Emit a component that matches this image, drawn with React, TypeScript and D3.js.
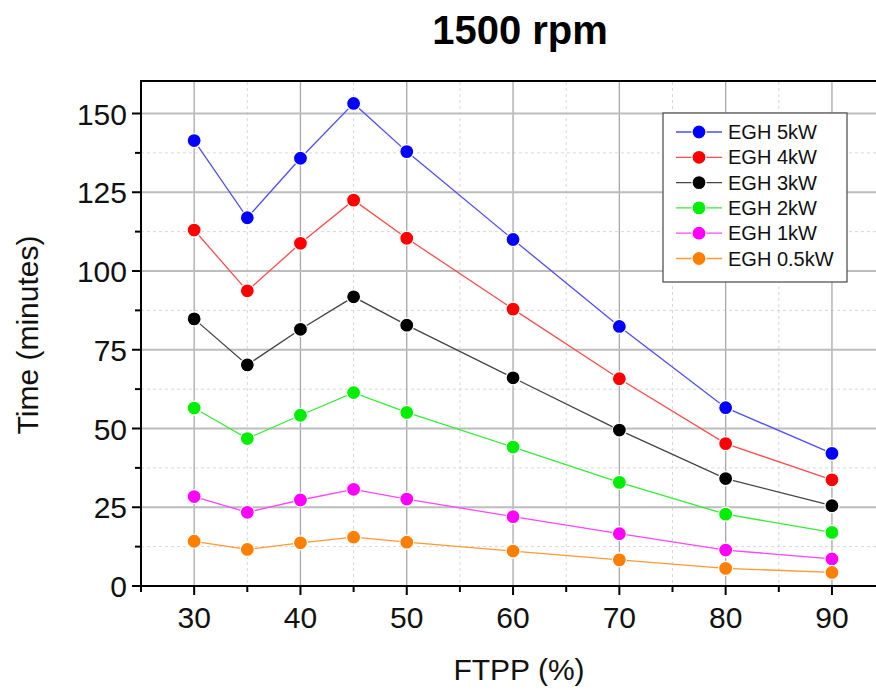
import React from "react";
import * as d3 from "d3";

const ftpp = [30, 35, 40, 45, 50, 60, 70, 80, 90];
const seriesNames = ["EGH 5kW", "EGH 4kW", "EGH 3kW", "EGH 2kW", "EGH 1kW", "EGH 0.5kW"];
const markerColors = ["#0000ff", "#ff0000", "#000000", "#00ee00", "#ff00ff", "#ff8000"];
const lineColors = ["#4d4dff", "#ff4d4d", "#444444", "#33ee33", "#ff44ff", "#ff9933"];
const egh5 = [141.4, 116.9, 135.8, 153.2, 137.9, 110.0, 82.4, 56.6, 42.1];
const egh4 = [113.0, 93.7, 108.8, 122.5, 110.4, 87.9, 65.8, 45.2, 33.7];
const egh3 = [84.8, 70.2, 81.5, 91.8, 82.8, 66.1, 49.5, 34.1, 25.5];
const egh2 = [56.5, 46.8, 54.2, 61.4, 55.1, 44.1, 32.9, 22.8, 17.0];
const egh1 = [28.4, 23.4, 27.3, 30.7, 27.6, 22.0, 16.6, 11.4, 8.6];
const egh05 = [14.2, 11.6, 13.7, 15.5, 13.9, 11.1, 8.3, 5.6, 4.3];
const seriesValues = [egh5, egh4, egh3, egh2, egh1, egh05];
const xMajorTicks = [30, 40, 50, 60, 70, 80, 90];
const xMinorTicks = [25, 35, 45, 55, 65, 75, 85, 95];
const yMajorTicks = [0, 25, 50, 75, 100, 125, 150];
const yMinorTicks = [12.5, 37.5, 62.5, 87.5, 112.5, 137.5];

export default function App() {
  const W = 876, H = 690;
  const left = 141, top = 82, bottom = 586;
  const x = d3.scaleLinear().domain([25, 95]).range([left, left + 70 * 10.63]);
  const y = d3.scaleLinear().domain([0, 160]).range([bottom, top]);
  const right = x(95);
  const line = d3.line<number>().x((_, i) => x(ftpp[i])).y((v) => y(v));
  const font = "Liberation Sans, Arial, sans-serif";

  const legX = 663, legY = 113, legW = 184, legH = 169;
  return (
    <svg width={W} height={H} style={{ position: "absolute", left: 0, top: 0, background: "#fff" }} fontFamily={font}>
      <rect x={0} y={0} width={W} height={H} fill="#fff" />
      {/* minor grid */}
      {xMinorTicks.map((t) => (
        <line key={"xm" + t} x1={x(t)} x2={x(t)} y1={top} y2={bottom} stroke="#d8d8d8" strokeWidth={1} strokeDasharray="3,3" />
      ))}
      {yMinorTicks.map((t) => (
        <line key={"ym" + t} x1={left} x2={right} y1={y(t)} y2={y(t)} stroke="#d8d8d8" strokeWidth={1} strokeDasharray="3,3" />
      ))}
      {/* major grid */}
      {xMajorTicks.map((t) => (
        <line key={"xg" + t} x1={x(t)} x2={x(t)} y1={top} y2={bottom} stroke="#a8a8a8" strokeWidth={1.3} />
      ))}
      {yMajorTicks.filter((t) => t > 0).map((t) => (
        <line key={"yg" + t} x1={left} x2={right} y1={y(t)} y2={y(t)} stroke="#bdbdbd" strokeWidth={2} />
      ))}
      {/* frame */}
      <line x1={left} x2={right} y1={top - 1} y2={top - 1} stroke="#000" strokeWidth={2} />
      <line x1={left} x2={left} y1={top - 2} y2={bottom + 1} stroke="#000" strokeWidth={2} />
      <line x1={left - 1} x2={right} y1={bottom} y2={bottom} stroke="#000" strokeWidth={2} />
      {/* ticks */}
      {xMajorTicks.map((t) => (
        <line key={"xt" + t} x1={x(t)} x2={x(t)} y1={bottom} y2={bottom + 9} stroke="#000" strokeWidth={2} />
      ))}
      {xMinorTicks.map((t) => (
        <line key={"xmt" + t} x1={x(t)} x2={x(t)} y1={bottom} y2={bottom + 6} stroke="#000" strokeWidth={2} />
      ))}
      {yMajorTicks.map((t) => (
        <line key={"yt" + t} x1={left - 9} x2={left} y1={y(t)} y2={y(t)} stroke="#000" strokeWidth={2} />
      ))}
      {yMinorTicks.map((t) => (
        <line key={"ymt" + t} x1={left - 6} x2={left} y1={y(t)} y2={y(t)} stroke="#000" strokeWidth={2} />
      ))}
      {/* tick labels */}
      {xMajorTicks.map((t) => (
        <text key={"xl" + t} x={x(t)} y={bottom + 42} fontSize={30} textAnchor="middle" fill="#111">{t}</text>
      ))}
      {yMajorTicks.map((t) => (
        <text key={"yl" + t} x={left - 14} y={y(t) + 11} fontSize={30} textAnchor="end" fill="#111">{t}</text>
      ))}
      {/* series */}
      {seriesValues.map((vals, si) => (
        <g key={"s" + si}>
          <path d={line(vals) || ""} fill="none" stroke={lineColors[si]} strokeWidth={1.3} />
          {vals.map((v, i) => (
            <circle key={i} cx={x(ftpp[i])} cy={y(v)} r={7} fill={markerColors[si]} stroke="#fff" strokeWidth={1.2} />
          ))}
        </g>
      ))}
      {/* legend */}
      <rect x={legX} y={legY} width={legW} height={legH} fill="#fff" stroke="#555" strokeWidth={1.3} />
      {seriesNames.map((n, i) => {
        const ly = legY + 19 + i * 25.3;
        return (
          <g key={"lg" + i}>
            <line x1={676} x2={722} y1={ly} y2={ly} stroke={lineColors[i]} strokeWidth={1.3} />
            <circle cx={699} cy={ly} r={7} fill={markerColors[i]} stroke="#fff" strokeWidth={1.2} />
            <text x={728} y={ly + 7} fontSize={20} fill="#111">{n}</text>
          </g>
        );
      })}
      {/* titles */}
      <text x={520} y={44} fontSize={40} fontWeight="bold" textAnchor="middle" fill="#000">1500 rpm</text>
      <text x={519} y={680} fontSize={30} textAnchor="middle" fill="#111">FTPP (%)</text>
      <text transform={`translate(38,335) rotate(-90)`} fontSize={30} textAnchor="middle" fill="#111">Time (minutes)</text>
    </svg>
  );
}
